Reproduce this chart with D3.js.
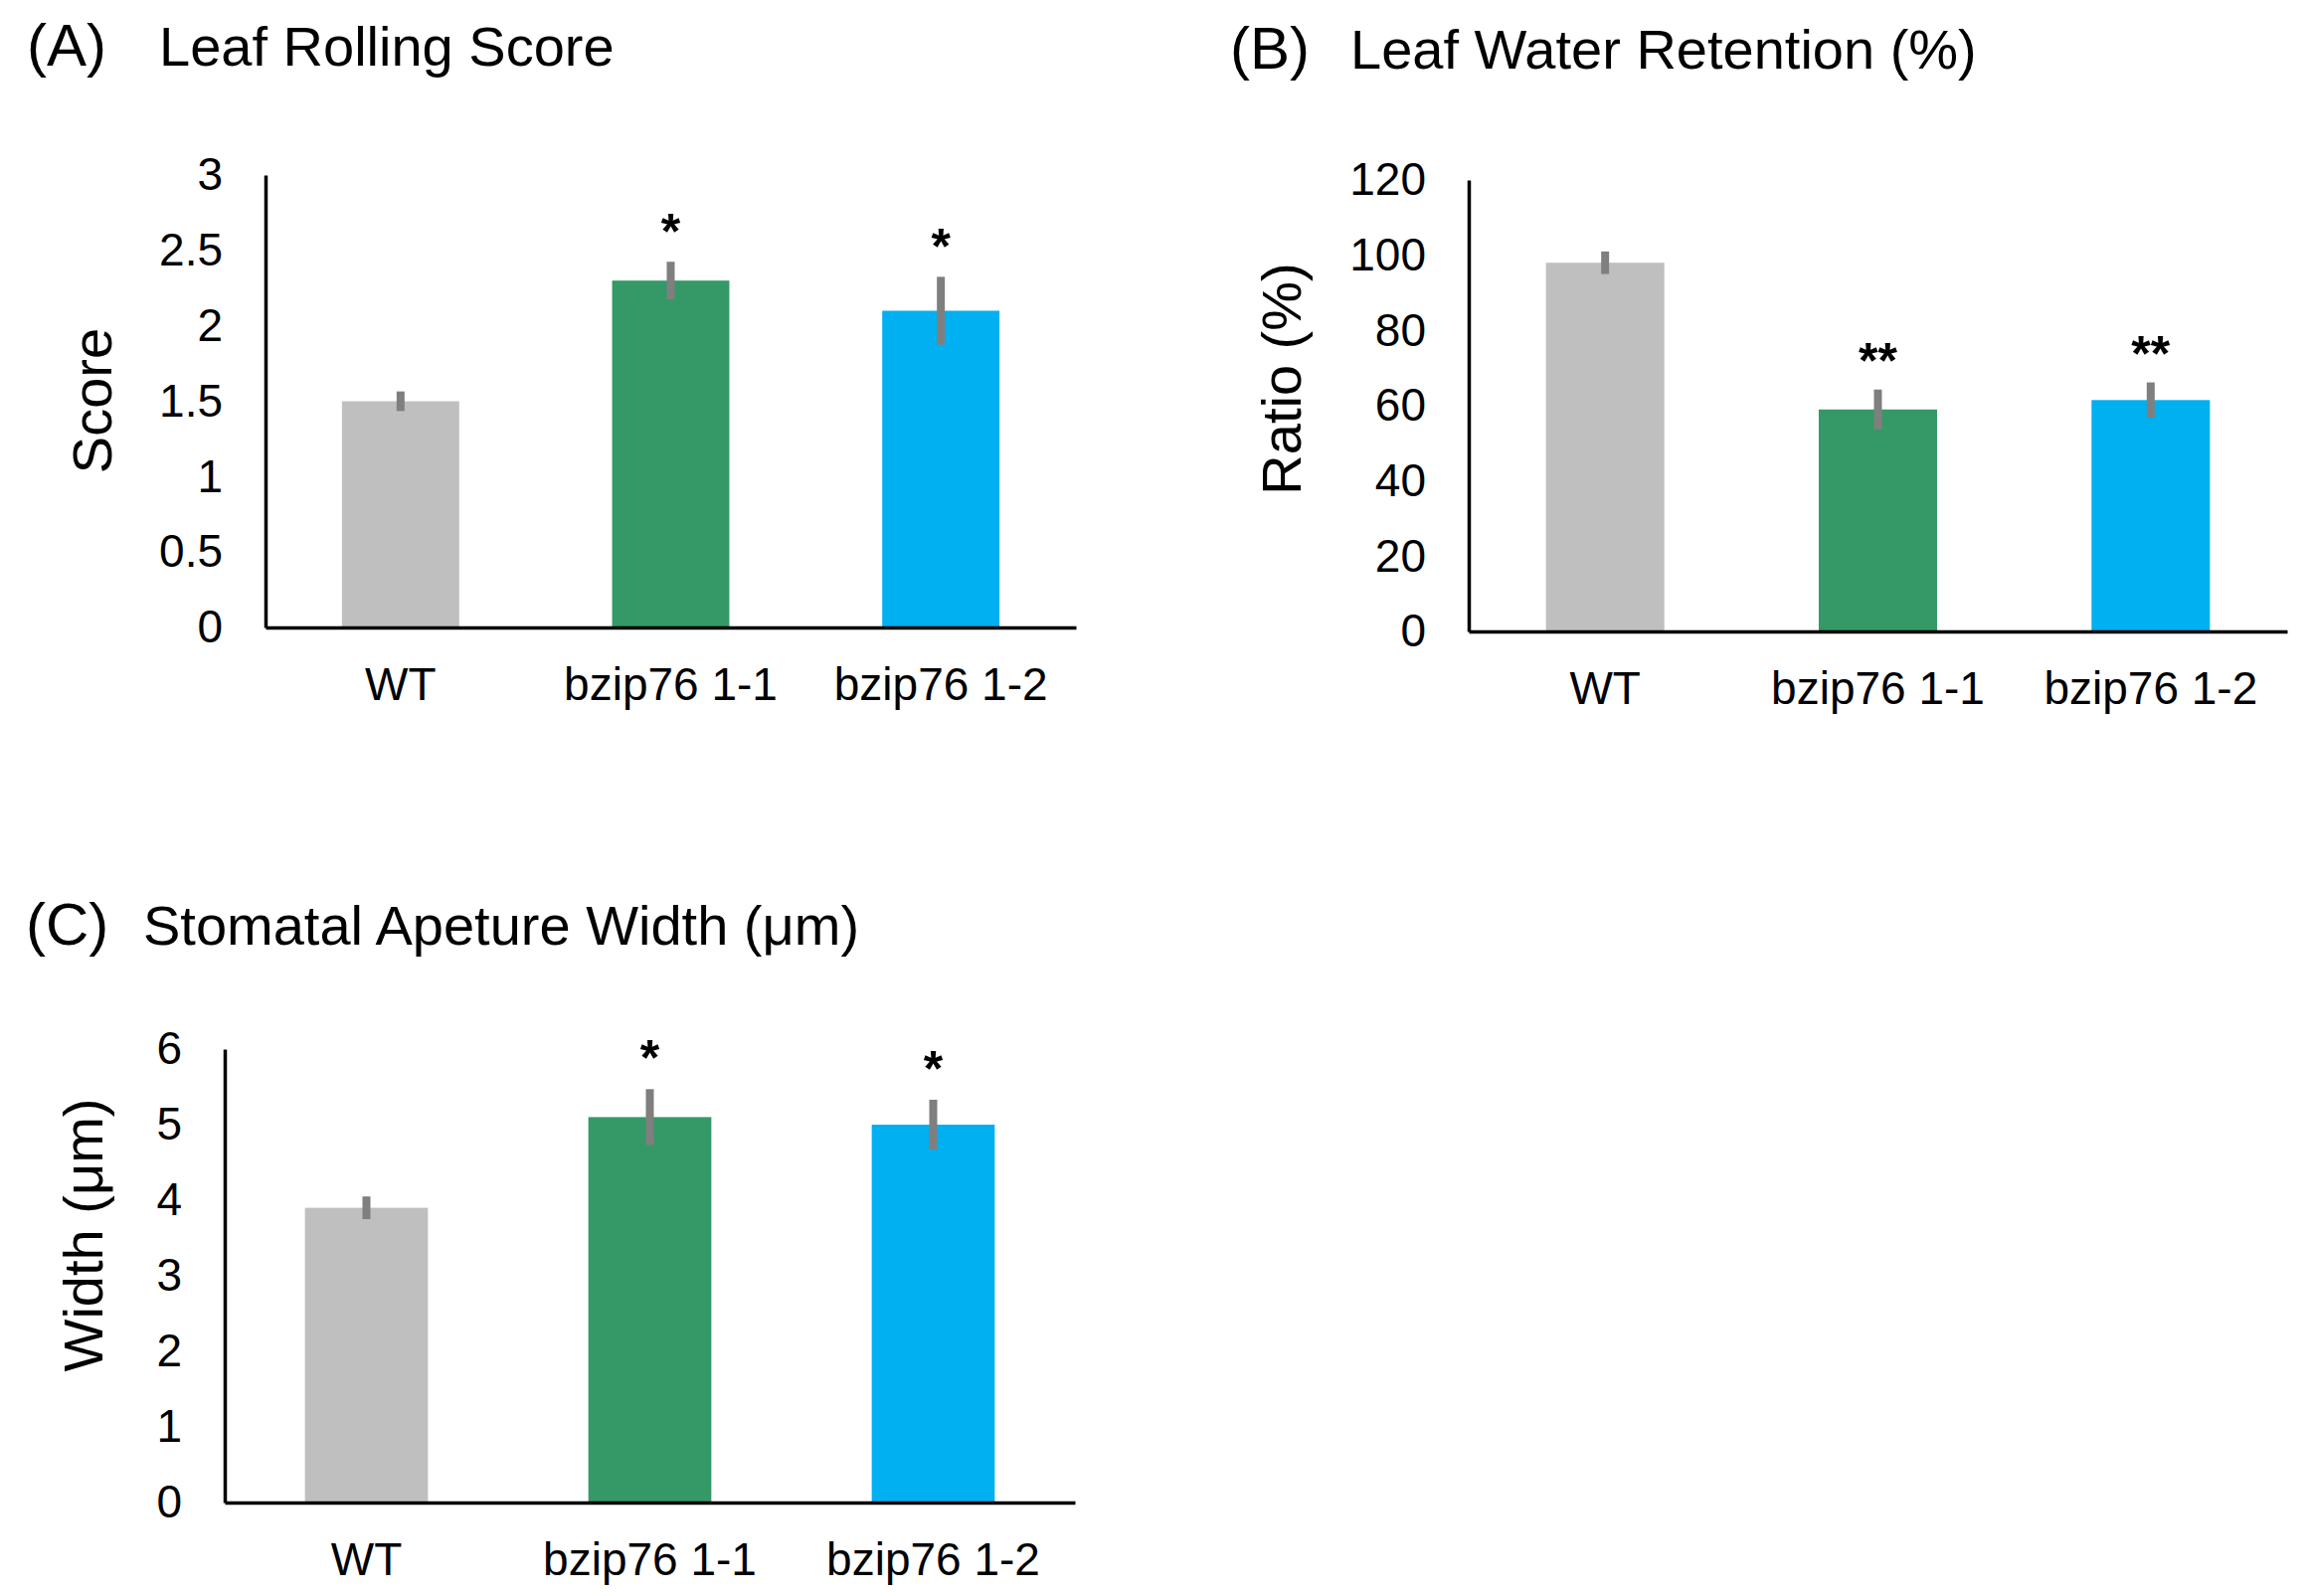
<!DOCTYPE html>
<html>
<head>
<meta charset="utf-8">
<script src="https://cdn.jsdelivr.net/npm/d3@7"></script>
<style>
  html, body { margin: 0; padding: 0; background: #fff; }
  svg { display: block; }
  text { font-family: "Liberation Sans", Arial, Helvetica, sans-serif; fill: #000; }
</style>
</head>
<body>
<svg id="chart" width="2320" height="1605"></svg>
<script>
// ---------- data ----------
const categories = ["WT", "bzip76 1-1", "bzip76 1-2"];
const barColors = ["#BFBFBF", "#349966", "#00B0F0"];

const rollingScore = [1.5, 2.3, 2.1];
const rollingErr = [0.065, 0.125, 0.225];
const rollingSig = ["", "*", "*"];
const rollingTicks = [0, 0.5, 1, 1.5, 2, 2.5, 3];

const waterRetention = [98, 59, 61.5];
const waterErr = [3, 5.3, 4.7];
const waterSig = ["", "**", "**"];
const waterTicks = [0, 20, 40, 60, 80, 100, 120];

const apertureWidth = [3.9, 5.1, 5.0];
const apertureErr = [0.15, 0.37, 0.33];
const apertureSig = ["", "*", "*"];
const apertureTicks = [0, 1, 2, 3, 4, 5, 6];

// ---------- layout ----------
const panels = [
  { letter: "(A)", title: "Leaf Rolling Score", ylabel: "Score",
    values: rollingScore, errs: rollingErr, sig: rollingSig, ticks: rollingTicks,
    ymax: 3, x0: 267, x1: 1082, yTop: 176, yBot: 631,
    letterX: 27, titleX: 160, titleY: 66, ylabX: 112, ylabY: 403, starOff: 37 },
  { letter: "(B)", title: "Leaf Water Retention (%)", ylabel: "Ratio (%)",
    values: waterRetention, errs: waterErr, sig: waterSig, ticks: waterTicks,
    ymax: 120, x0: 1477, x1: 2300, yTop: 181, yBot: 635,
    letterX: 1237, titleX: 1358, titleY: 69, ylabX: 1308, ylabY: 381, starOff: 36 },
  { letter: "(C)", title: "Stomatal Apeture Width (\u03bcm)", ylabel: "Width (\u03bcm)",
    values: apertureWidth, errs: apertureErr, sig: apertureSig, ticks: apertureTicks,
    ymax: 6, x0: 226, x1: 1081, yTop: 1055, yBot: 1511,
    letterX: 26, titleX: 144, titleY: 950, ylabX: 103, ylabY: 1242, starOff: 38 }
];

const svg = d3.select("#chart");

panels.forEach(p => {
  const g = svg.append("g");
  const x = d3.scaleBand().domain(categories).range([p.x0, p.x1])
    .paddingInner(0.566).paddingOuter(0.283);
  const y = d3.scaleLinear().domain([0, p.ymax]).range([p.yBot, p.yTop]);

  // titles
  g.append("text").attr("x", p.letterX).attr("y", p.titleY)
    .attr("font-size", 60).text(p.letter);
  g.append("text").attr("x", p.titleX).attr("y", p.titleY)
    .attr("font-size", 56).text(p.title);

  // y label
  g.append("text")
    .attr("transform", `translate(${p.ylabX},${p.ylabY}) rotate(-90)`)
    .attr("text-anchor", "middle").attr("font-size", 56).text(p.ylabel);

  // bars
  const data = categories.map((c, i) => ({ c, v: p.values[i], e: p.errs[i], s: p.sig[i], col: barColors[i] }));
  g.selectAll("rect.bar").data(data).enter().append("rect")
    .attr("class", "bar")
    .attr("x", d => x(d.c)).attr("width", x.bandwidth())
    .attr("y", d => y(d.v)).attr("height", d => y(0) - y(d.v))
    .attr("fill", d => d.col);

  // error bars
  g.selectAll("line.err").data(data).enter().append("line")
    .attr("class", "err")
    .attr("x1", d => x(d.c) + x.bandwidth() / 2).attr("x2", d => x(d.c) + x.bandwidth() / 2)
    .attr("y1", d => y(d.v + d.e)).attr("y2", d => y(d.v - d.e))
    .attr("stroke", "#7F7F7F").attr("stroke-width", 8);

  // significance
  g.selectAll("text.sig").data(data.filter(d => d.s)).enter().append("text")
    .attr("class", "sig")
    .attr("x", d => x(d.c) + x.bandwidth() / 2)
    .attr("y", d => y(d.v + d.e) - p.starOff + 24)
    .attr("text-anchor", "middle").attr("font-size", 50).attr("font-weight", "bold")
    .text(d => d.s);

  // axes
  const yAxis = d3.axisLeft(y).tickValues(p.ticks).tickSizeInner(0).tickSizeOuter(0)
    .tickPadding(43).tickFormat(d3.format("~g"));
  const ya = g.append("g").attr("transform", `translate(${p.x0},0)`).call(yAxis);
  ya.selectAll("text").attr("font-size", 46).attr("font-family", null).attr("fill", "#000");
  ya.select(".domain").attr("stroke", "#000").attr("stroke-width", 3.5);

  const xAxis = d3.axisBottom(x).tickSizeInner(0).tickSizeOuter(0).tickPadding(40);
  const xa = g.append("g").attr("transform", `translate(0,${p.yBot})`).call(xAxis);
  xa.selectAll("text").attr("font-size", 46).attr("font-family", null).attr("fill", "#000");
  xa.select(".domain").attr("stroke", "#000").attr("stroke-width", 3.5);
});
</script>
</body>
</html>
